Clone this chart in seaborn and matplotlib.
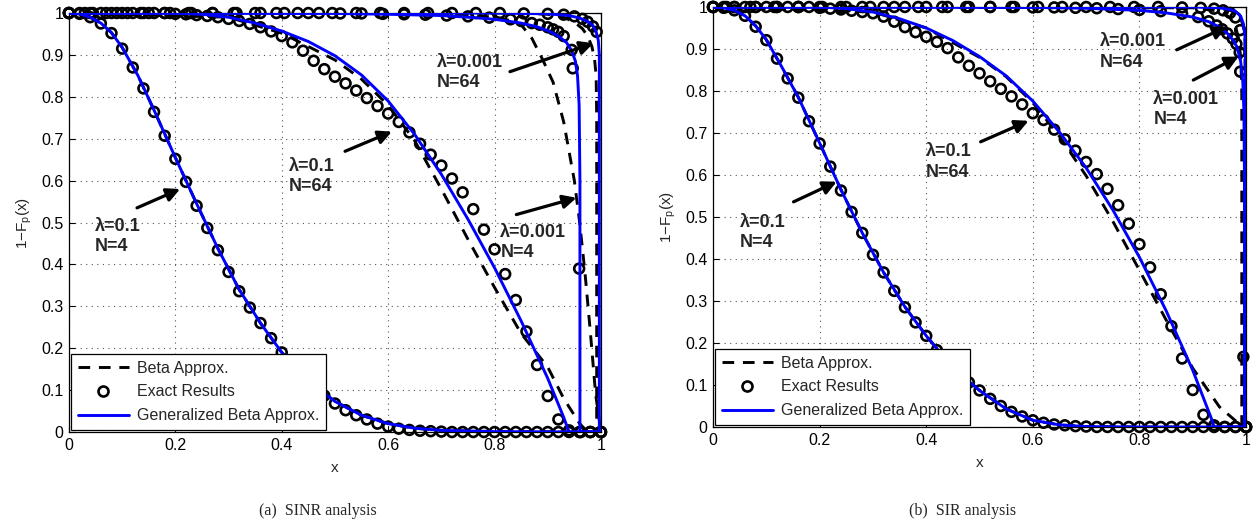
import matplotlib
matplotlib.use("Agg")
import matplotlib.pyplot as plt
import seaborn as sns
from matplotlib.lines import Line2D

# ---------------- data ----------------
grid = [0.00, 0.02, 0.04, 0.06, 0.08, 0.10, 0.12, 0.14, 0.16, 0.18,
        0.20, 0.22, 0.24, 0.26, 0.28, 0.30, 0.32, 0.34, 0.36, 0.38,
        0.40, 0.42, 0.44, 0.46, 0.48, 0.50, 0.52, 0.54, 0.56, 0.58,
        0.60, 0.62, 0.64, 0.66, 0.68, 0.70, 0.72, 0.74, 0.76, 0.78,
        0.80, 0.82, 0.84, 0.86, 0.88, 0.90, 0.92, 0.94, 0.96, 0.98, 1.00]

# ---- (a) SINR ----
sinr_exact_a = [1.0, 0.998, 0.99, 0.975, 0.952, 0.915, 0.87, 0.82, 0.764, 0.707,
                0.652, 0.597, 0.54, 0.487, 0.434, 0.382, 0.336, 0.297, 0.26, 0.224,
                0.19, 0.16, 0.133, 0.108, 0.087, 0.068, 0.052, 0.04, 0.03, 0.02,
                0.013, 0.008, 0.005, 0.003, 0.002, 0.001, 0.0, 0.0, 0.0, 0.0,
                0.0, 0.0, 0.0, 0.0, 0.0, 0.0, 0.0, 0.0, 0.0, 0.0, 0.0]
sinr_exact_b = [1.0, 1.0, 1.0, 1.0, 1.0, 1.0, 1.0, 1.0, 1.0, 1.0,
                0.998, 0.997, 0.995, 0.993, 0.99, 0.986, 0.981, 0.974, 0.966, 0.956,
                0.945, 0.93, 0.91, 0.886, 0.866, 0.848, 0.832, 0.815, 0.797, 0.778,
                0.76, 0.74, 0.715, 0.688, 0.662, 0.636, 0.605, 0.572, 0.532, 0.483,
                0.436, 0.377, 0.315, 0.24, 0.16, 0.086, 0.03, 0.004, 0.0, 0.0, 0.0]
sinr_exact_c_x = [0.0, 0.03, 0.07, 0.11, 0.15, 0.19, 0.23, 0.27, 0.31, 0.35, 0.39,
                  0.43, 0.47, 0.51, 0.55, 0.59, 0.63, 0.67, 0.71, 0.75, 0.79,
                  0.83, 0.85, 0.87, 0.885, 0.90, 0.91, 0.92, 0.93, 0.945, 0.947,
                  0.959, 0.962, 0.98, 1.0]
sinr_exact_c_y = [1.0, 1.0, 1.0, 1.0, 1.0, 1.0, 1.0, 1.0, 1.0, 1.0, 1.0,
                  1.0, 1.0, 0.999, 0.999, 0.998, 0.997, 0.996, 0.994, 0.992, 0.989,
                  0.985, 0.981, 0.976, 0.972, 0.966, 0.961, 0.955, 0.945, 0.912, 0.868,
                  0.39, 0.0, 0.0, 0.0]
sinr_exact_d_x = [0.0, 0.045, 0.09, 0.135, 0.18, 0.225, 0.27, 0.315, 0.36, 0.405,
                  0.45, 0.495, 0.54, 0.585, 0.63, 0.675, 0.72, 0.765, 0.81, 0.855,
                  0.90, 0.93, 0.95, 0.965, 0.975, 0.985, 0.992, 1.0]
sinr_exact_d_y = [1.0, 1.0, 1.0, 1.0, 1.0, 1.0, 1.0, 1.0, 1.0, 1.0,
                  1.0, 1.0, 1.0, 1.0, 1.0, 1.0, 1.0, 1.0, 1.0, 0.999,
                  0.998, 0.996, 0.992, 0.986, 0.979, 0.968, 0.955, 0.0]

sinr_gb_a_x = [0, 0.02, 0.04, 0.06, 0.08, 0.10, 0.13, 0.16, 0.20, 0.24, 0.28, 0.32,
               0.36, 0.40, 0.45, 0.50, 0.55, 0.60, 0.65, 0.70, 0.80, 1.0]
sinr_gb_a_y = [1, 0.998, 0.99, 0.976, 0.953, 0.918, 0.85, 0.768, 0.655, 0.545, 0.438, 0.34,
               0.26, 0.19, 0.122, 0.073, 0.04, 0.02, 0.009, 0.004, 0.001, 0]
sinr_beta_a_y = [1, 0.998, 0.99, 0.976, 0.953, 0.918, 0.85, 0.768, 0.655, 0.545, 0.438, 0.34,
                 0.26, 0.19, 0.122, 0.073, 0.04, 0.02, 0.009, 0.004, 0.001, 0]

sinr_gb_b_x = [0, 0.20, 0.25, 0.30, 0.35, 0.40, 0.45, 0.50, 0.55, 0.60, 0.65, 0.70,
               0.75, 0.80, 0.85, 0.90, 0.93, 0.94, 1.0]
sinr_gb_b_y = [1, 1, 0.997, 0.99, 0.976, 0.957, 0.932, 0.898, 0.852, 0.79, 0.71, 0.615,
               0.508, 0.392, 0.265, 0.128, 0.035, 0.0, 0.0]
sinr_beta_b_x = [0, 0.30, 0.40, 0.50, 0.55, 0.60, 0.65, 0.70, 0.75, 0.80, 0.85, 0.90,
                 0.93, 0.96, 0.975, 1.0]
sinr_beta_b_y = [1, 0.99, 0.952, 0.888, 0.842, 0.78, 0.695, 0.58, 0.46, 0.345, 0.235, 0.155,
                 0.08, 0.02, 0.0, 0.0]

sinr_gb_c_x = [0, 0.50, 0.60, 0.70, 0.75, 0.80, 0.85, 0.88, 0.90, 0.92, 0.935, 0.945,
               0.952, 0.956, 0.959, 0.9605, 0.9605, 1.0]
sinr_gb_c_y = [1, 0.999, 0.997, 0.994, 0.99, 0.985, 0.976, 0.967, 0.958, 0.945, 0.93, 0.91,
               0.885, 0.85, 0.78, 0.6, 0.0, 0.0]
sinr_beta_c_x = [0, 0.60, 0.70, 0.75, 0.80, 0.83, 0.85, 0.87, 0.89, 0.91, 0.93, 0.95,
                 0.96, 0.97, 0.98, 0.99, 1.0]
sinr_beta_c_y = [1, 1, 0.998, 0.995, 0.99, 0.982, 0.972, 0.94, 0.89, 0.835, 0.74, 0.6,
                 0.5, 0.38, 0.24, 0.09, 0.0]

sinr_gb_d_x = [0, 0.80, 0.90, 0.94, 0.96, 0.975, 0.985, 0.991, 0.995, 0.997, 0.997, 1.0]
sinr_gb_d_y = [1, 1, 0.998, 0.994, 0.988, 0.98, 0.97, 0.955, 0.935, 0.9, 0.0, 0.0]
sinr_beta_d_x = [0, 0.85, 0.90, 0.93, 0.95, 0.965, 0.975, 0.983, 0.988, 0.991, 0.992, 0.992, 1.0]
sinr_beta_d_y = [1, 1, 0.997, 0.99, 0.978, 0.963, 0.945, 0.92, 0.89, 0.85, 0.75, 0.0, 0.0]

# ---- (b) SIR ----
sir_exact_a = [1.0, 0.998, 0.992, 0.979, 0.953, 0.921, 0.877, 0.83, 0.784, 0.728,
               0.675, 0.62, 0.563, 0.512, 0.462, 0.41, 0.368, 0.324, 0.285, 0.249,
               0.217, 0.183, 0.155, 0.128, 0.106, 0.087, 0.067, 0.05, 0.036, 0.025,
               0.016, 0.01, 0.006, 0.004, 0.002, 0.001, 0.0, 0.0, 0.0, 0.0,
               0.0, 0.0, 0.0, 0.0, 0.0, 0.0, 0.0, 0.0, 0.0, 0.0, 0.0]
sir_exact_b = [1.0, 1.0, 1.0, 1.0, 1.0, 1.0, 1.0, 1.0, 1.0, 1.0,
               0.998, 0.996, 0.994, 0.991, 0.988, 0.985, 0.977, 0.965, 0.952, 0.94,
               0.929, 0.917, 0.902, 0.88, 0.86, 0.842, 0.823, 0.805, 0.787, 0.768,
               0.747, 0.731, 0.708, 0.685, 0.658, 0.631, 0.602, 0.567, 0.528, 0.484,
               0.435, 0.38, 0.316, 0.24, 0.163, 0.088, 0.029, 0.004, 0.0, 0.0, 0.0]
sir_exact_c_x = [0.0, 0.04, 0.08, 0.12, 0.16, 0.20, 0.24, 0.28, 0.32, 0.36, 0.40,
                 0.44, 0.48, 0.52, 0.56, 0.60, 0.64, 0.68, 0.72, 0.76, 0.80,
                 0.84, 0.88, 0.91, 0.93, 0.945, 0.955, 0.965, 0.975, 0.982, 0.988,
                 0.989, 0.995, 1.0]
sir_exact_c_y = [1.0, 1.0, 1.0, 1.0, 1.0, 1.0, 1.0, 1.0, 1.0, 1.0, 1.0,
                 1.0, 1.0, 1.0, 1.0, 0.999, 0.999, 0.998, 0.997, 0.995, 0.993,
                 0.99, 0.984, 0.976, 0.966, 0.956, 0.947, 0.937, 0.925, 0.912, 0.892,
                 0.846, 0.167, 0.0]
sir_exact_d_x = [0.0, 0.025, 0.07, 0.115, 0.16, 0.205, 0.25, 0.295, 0.34, 0.385,
                 0.43, 0.475, 0.52, 0.565, 0.61, 0.655, 0.70, 0.745, 0.79, 0.835,
                 0.88, 0.915, 0.94, 0.957, 0.97, 0.98, 0.989, 1.0]
sir_exact_d_y = [1.0, 1.0, 1.0, 1.0, 1.0, 1.0, 1.0, 1.0, 1.0, 1.0,
                 1.0, 1.0, 1.0, 1.0, 1.0, 1.0, 1.0, 1.0, 1.0, 1.0,
                 0.999, 0.998, 0.996, 0.992, 0.986, 0.975, 0.945, 0.0]

sir_gb_a_x = [0, 0.02, 0.04, 0.06, 0.08, 0.10, 0.13, 0.16, 0.20, 0.24, 0.28, 0.32,
              0.36, 0.40, 0.45, 0.50, 0.55, 0.60, 0.65, 0.70, 0.80, 1.0]
sir_gb_a_y = [1, 0.998, 0.992, 0.979, 0.955, 0.922, 0.855, 0.785, 0.676, 0.565, 0.462, 0.368,
              0.286, 0.217, 0.141, 0.087, 0.043, 0.016, 0.005, 0.001, 0.0, 0]
sir_beta_a_y = [1, 0.998, 0.992, 0.979, 0.955, 0.922, 0.855, 0.785, 0.676, 0.565, 0.462, 0.368,
                0.286, 0.217, 0.141, 0.087, 0.043, 0.016, 0.005, 0.001, 0.0, 0]

sir_gb_b_x = [0, 0.20, 0.25, 0.30, 0.35, 0.40, 0.45, 0.50, 0.55, 0.60, 0.65, 0.70,
              0.75, 0.80, 0.85, 0.90, 0.935, 0.94, 1.0]
sir_gb_b_y = [1, 1, 0.996, 0.988, 0.972, 0.95, 0.92, 0.882, 0.836, 0.776, 0.702, 0.617,
              0.517, 0.404, 0.277, 0.135, 0.02, 0.0, 0.0]
sir_beta_b_x = [0, 0.30, 0.40, 0.50, 0.55, 0.60, 0.65, 0.70, 0.75, 0.80, 0.85, 0.90,
                0.95, 0.98, 1.0]
sir_beta_b_y = [1, 0.988, 0.95, 0.88, 0.834, 0.772, 0.692, 0.598, 0.49, 0.373, 0.255, 0.14,
                0.048, 0.015, 0.0]

sir_gb_c_x = [0, 0.60, 0.70, 0.80, 0.85, 0.90, 0.93, 0.95, 0.965, 0.975, 0.983, 0.99,
              0.994, 0.996, 0.997, 0.997, 1.0]
sir_gb_c_y = [1, 0.999, 0.997, 0.992, 0.986, 0.976, 0.965, 0.952, 0.937, 0.922, 0.905, 0.87,
              0.82, 0.75, 0.6, 0.0, 0.0]
sir_beta_c_x = [0, 0.90, 0.95, 0.97, 0.98, 0.986, 0.99, 0.992, 0.992, 1.0]
sir_beta_c_y = [1, 0.998, 0.99, 0.975, 0.955, 0.925, 0.88, 0.8, 0.0, 0.0]

sir_gb_d_x = [0, 0.90, 0.95, 0.97, 0.98, 0.99, 0.995, 0.998, 0.999, 0.999, 1.0]
sir_gb_d_y = [1, 1, 0.998, 0.994, 0.99, 0.978, 0.96, 0.93, 0.88, 0.0, 0.0]
sir_beta_d_x = [0, 0.90, 0.95, 0.97, 0.98, 0.99, 0.995, 0.998, 0.998, 1.0]
sir_beta_d_y = [1, 1, 0.997, 0.992, 0.986, 0.972, 0.955, 0.92, 0.0, 0.0]

x_ticks = [0, 0.2, 0.4, 0.6, 0.8, 1.0]
x_tick_labels = ["0", "0.2", "0.4", "0.6", "0.8", "1"]
y_ticks = [0, 0.1, 0.2, 0.3, 0.4, 0.5, 0.6, 0.7, 0.8, 0.9, 1.0]
y_tick_labels = ["0", "0.1", "0.2", "0.3", "0.4", "0.5", "0.6", "0.7", "0.8", "0.9", "1"]

legend_labels = ["Beta Approx.", "Exact Results", "Generalized Beta Approx."]
captions = ["(a)  SINR analysis", "(b)  SIR analysis"]

# annotations: text, text anchor (left x, vertical centre), arrow tail, arrow head
sinr_notes = [("λ=0.1\nN=4", (0.049, 0.467), (0.128, 0.535), (0.209, 0.580)),
              ("λ=0.1\nN=64", (0.414, 0.610), (0.519, 0.670), (0.607, 0.717)),
              ("λ=0.001\nN=64", (0.691, 0.858), (0.829, 0.860), (0.986, 0.928)),
              ("λ=0.001\nN=4", (0.811, 0.453), (0.841, 0.519), (0.954, 0.559))]
sir_notes = [("λ=0.1\nN=4", (0.051, 0.463), (0.151, 0.536), (0.232, 0.584)),
             ("λ=0.1\nN=64", (0.400, 0.631), (0.502, 0.679), (0.592, 0.729)),
             ("λ=0.001\nN=64", (0.726, 0.893), (0.870, 0.898), (0.964, 0.953)),
             ("λ=0.001\nN=4", (0.826, 0.756), (0.901, 0.826), (0.986, 0.882))]

# ---------------- styling ----------------
sns.set_style("ticks")
plt.rcParams["font.family"] = ["Liberation Sans", "DejaVu Sans"]
plt.rcParams["mathtext.fontset"] = "custom"
plt.rcParams["mathtext.rm"] = "Liberation Sans"
plt.rcParams["mathtext.it"] = "Liberation Sans"

BLUE = "#0000FF"
fig = plt.figure(figsize=(12.58, 5.25), dpi=100)
ax1 = fig.add_axes([0.0548, 0.1771, 0.4229, 0.7981])
ax2 = fig.add_axes([0.5668, 0.1867, 0.4237, 0.8000])


def line(ax, x, y, **kw):
    sns.lineplot(x=x, y=y, ax=ax, sort=False, estimator=None, errorbar=None, **kw)


def panel(ax, exact_ab, exact_c, exact_d, gb, beta, notes):
    for (bx, by) in beta:
        line(ax, bx, by, color="black", linewidth=2.1, dashes=(4, 3), zorder=2)
    allx, ally = [], []
    for yy in exact_ab:
        allx += grid
        ally += yy
    for (cx, cy) in (exact_c, exact_d):
        allx += cx
        ally += cy
    sns.scatterplot(x=allx, y=ally, ax=ax, marker="o", s=50, facecolor="none",
                    edgecolor="black", linewidth=1.9, clip_on=False, zorder=3)
    for (gx, gy) in gb:
        line(ax, gx, gy, color=BLUE, linewidth=2.1, zorder=4)

    ax.set_xlim(0, 1)
    ax.set_ylim(0, 1)
    ax.set_xticks(x_ticks)
    ax.set_xticklabels(x_tick_labels)
    ax.set_yticks(y_ticks)
    ax.set_yticklabels(y_tick_labels)
    ax.tick_params(direction="in", length=4, width=0.8, labelsize=11.5,
                   top=True, right=True, pad=4, colors="black")
    ax.grid(True, color="#555555", linestyle=(0, (1, 4)), linewidth=0.8)
    for s in ax.spines.values():
        s.set_visible(True)
        s.set_linewidth(0.9)
        s.set_color("black")
    ax.set_xlabel("x", fontsize=11, labelpad=6)
    ax.set_ylabel("1−F$_{\\rm p}$(x)", fontsize=11, labelpad=5)

    for txt, tpos, tail, head in notes:
        ax.text(tpos[0], tpos[1], txt, fontsize=13, fontweight="bold",
                ha="left", va="center", linespacing=1.25, zorder=6)
        ax.annotate("", xy=head, xytext=tail,
                    arrowprops=dict(arrowstyle="-|>", color="black", lw=2.3,
                                    mutation_scale=20, shrinkA=0, shrinkB=0),
                    zorder=6)

    handles = [Line2D([], [], color="black", lw=2.1, dashes=(4, 3)),
               Line2D([], [], color="black", marker="o", ls="none", mfc="none",
                      mew=1.9, ms=7.2),
               Line2D([], [], color=BLUE, lw=2.1)]
    leg = ax.legend(handles, legend_labels, loc="lower left", fontsize=11.5,
                    frameon=True, fancybox=False, borderaxespad=0.15,
                    handlelength=3.2, handletextpad=0.5, borderpad=0.4,
                    labelspacing=0.55)
    leg.get_frame().set_edgecolor("black")
    leg.get_frame().set_linewidth(0.9)
    leg.get_frame().set_alpha(1)
    leg.set_zorder(10)


panel(ax1, [sinr_exact_a, sinr_exact_b],
      (sinr_exact_c_x, sinr_exact_c_y), (sinr_exact_d_x, sinr_exact_d_y),
      [(sinr_gb_a_x, sinr_gb_a_y), (sinr_gb_b_x, sinr_gb_b_y),
       (sinr_gb_c_x, sinr_gb_c_y), (sinr_gb_d_x, sinr_gb_d_y)],
      [(sinr_gb_a_x, sinr_beta_a_y), (sinr_beta_b_x, sinr_beta_b_y),
       (sinr_beta_c_x, sinr_beta_c_y), (sinr_beta_d_x, sinr_beta_d_y)],
      sinr_notes)
panel(ax2, [sir_exact_a, sir_exact_b],
      (sir_exact_c_x, sir_exact_c_y), (sir_exact_d_x, sir_exact_d_y),
      [(sir_gb_a_x, sir_gb_a_y), (sir_gb_b_x, sir_gb_b_y),
       (sir_gb_c_x, sir_gb_c_y), (sir_gb_d_x, sir_gb_d_y)],
      [(sir_gb_a_x, sir_beta_a_y), (sir_beta_b_x, sir_beta_b_y),
       (sir_beta_c_x, sir_beta_c_y), (sir_beta_d_x, sir_beta_d_y)],
      sir_notes)

fig.text(318 / 1258, 1 - 511 / 525, captions[0], ha="center", va="center",
         fontsize=11.5, family=["Liberation Serif", "DejaVu Serif"])
fig.text(963 / 1258, 1 - 511 / 525, captions[1], ha="center", va="center",
         fontsize=11.5, family=["Liberation Serif", "DejaVu Serif"])

fig.savefig("out.png", dpi=100)
